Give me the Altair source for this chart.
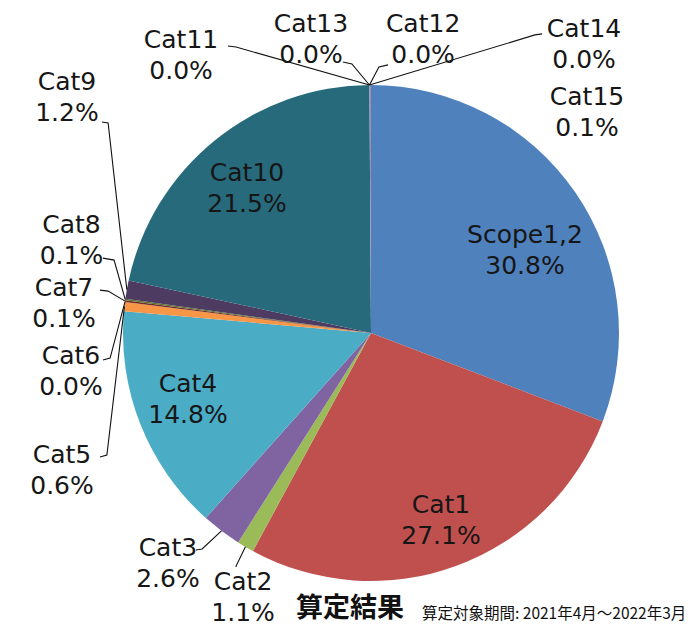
import math
import altair as alt
import pandas as pd

# ---- data ----
categories = ["Scope1,2", "Cat1", "Cat2", "Cat3", "Cat4", "Cat5", "Cat6", "Cat7",
              "Cat8", "Cat9", "Cat10", "Cat11", "Cat12", "Cat13", "Cat14", "Cat15"]
shares = [30.8, 27.1, 1.1, 2.6, 14.8, 0.6, 0.0, 0.1, 0.1, 1.2, 21.5, 0.0, 0.0, 0.0, 0.0, 0.1]
colors = ["#4F81BD", "#C0504D", "#9BBB59", "#8064A2", "#4BACC6", "#F79646", "#2C4D75", "#772C2A",
          "#5F7530", "#4D3B62", "#276A7C", "#B65708", "#729ACA", "#CD7371", "#AFC97A", "#A18CB8"]
title_main = "算定結果"
title_sub = "算定対象期間: 2021年4月～2022年3月"

# ---- layout (in units of the pie radius, relative to the pie centre) ----
W, H = 682, 619
CX, CY, R = 363, 325, 248
label_pos = {
    "Scope1,2": (0.621, 0.331), "Cat1": (0.282, -0.758), "Cat4": (-0.738, -0.270),
    "Cat10": (-0.500, 0.581), "Cat11": (-0.766, 1.117), "Cat13": (-0.242, 1.183),
    "Cat12": (0.210, 1.183), "Cat14": (0.859, 1.165), "Cat15": (0.871, 0.891),
    "Cat9": (-1.226, 0.950), "Cat8": (-1.208, 0.371), "Cat7": (-1.238, 0.117),
    "Cat6": (-1.210, -0.157), "Cat5": (-1.246, -0.556), "Cat3": (-0.819, -0.931),
    "Cat2": (-0.516, -1.068),
}
leader = {
    "Cat11": [(-0.577, 1.157), (-0.544, 1.153)],
    "Cat13": [(-0.113, 1.093), (-0.077, 1.085)],
    "Cat12": [(0.069, 1.081), (0.032, 1.073)],
    "Cat14": [(0.690, 1.206), (0.661, 1.202)],
    "Cat9": [(-1.085, 0.851), (-1.060, 0.847)],
    "Cat8": [(-1.081, 0.302), (-1.036, 0.294)],
    "Cat7": [(-1.093, 0.173), (-1.060, 0.169)],
    "Cat6": [(-1.081, -0.109), (-1.052, -0.101)],
    "Cat5": [(-1.093, -0.500), (-1.065, -0.492)],
    "Cat3": [(-0.706, -0.875), (-0.681, -0.871)],
    "Cat2": [(-0.544, -0.944), (-0.544, -0.940)],
}

# ---- tables ----
total = sum(shares)
pie = pd.DataFrame({"cat": categories, "share": shares, "idx": range(len(categories))})

mid = {}
acc = 0.0
for c, s in zip(categories, shares):
    mid[c] = (acc + s / 2) / total * 2 * math.pi
    acc += s

lab = pd.DataFrame({
    "cat": categories,
    "pct": [f"{s:.1f}%" for s in shares],
    "u": [label_pos[c][0] for c in categories],
    "v": [label_pos[c][1] for c in categories],
})

rows = []
for c, pts in leader.items():
    seq = pts + [(math.sin(mid[c]), math.cos(mid[c]))]
    for i, (u, v) in enumerate(seq):
        rows.append({"cat": c, "seq": i, "u": u, "v": v})
lines = pd.DataFrame(rows)

xs = alt.Scale(domain=[-CX / R, (W - CX) / R], nice=False, zero=False)
ys = alt.Scale(domain=[(CY - H) / R, CY / R], nice=False, zero=False)

arc = alt.Chart(pie).mark_arc(radius=R, strokeWidth=0).encode(
    theta=alt.Theta("share:Q", stack=True),
    color=alt.Color("cat:N", scale=alt.Scale(domain=categories, range=colors), legend=None),
    order=alt.Order("idx:Q"),
    x=alt.XDatum(0, type="quantitative", scale=xs, axis=None),
    y=alt.YDatum(0, type="quantitative", scale=ys, axis=None),
)

leads = alt.Chart(lines).mark_line(color="#111111", strokeWidth=1.1).encode(
    x=alt.X("u:Q", scale=xs, axis=None),
    y=alt.Y("v:Q", scale=ys, axis=None),
    detail="cat:N",
    order="seq:Q",
)

font = "DejaVu Sans"
base = alt.Chart(lab).encode(
    x=alt.X("u:Q", scale=xs, axis=None),
    y=alt.Y("v:Q", scale=ys, axis=None),
)
names = base.mark_text(font=font, fontSize=25, color="#161616", dy=-15.5).encode(text="cat:N")
pcts = base.mark_text(font=font, fontSize=25, color="#161616", dy=15.5).encode(text="pct:N")

t1 = alt.Chart(pd.DataFrame({"t": [title_main]})).mark_text(
    font="Noto Sans CJK JP", fontSize=27, fontWeight="bold", color="#111111", align="center"
).encode(text="t:N", x=alt.value(342), y=alt.value(601))
t2 = alt.Chart(pd.DataFrame({"t": [title_sub]})).mark_text(
    font="Noto Sans CJK JP", fontSize=15.5, color="#111111", align="left"
).encode(text="t:N", x=alt.value(414), y=alt.value(606))

chart = alt.layer(arc, leads, names, pcts, t1, t2).properties(
    width=W, height=H, padding=0, autosize=alt.AutoSizeParams(type="none"),
    background="white",
).configure_view(stroke=None)

chart.save("out.html", embed_options={"renderer": "svg", "actions": False})
